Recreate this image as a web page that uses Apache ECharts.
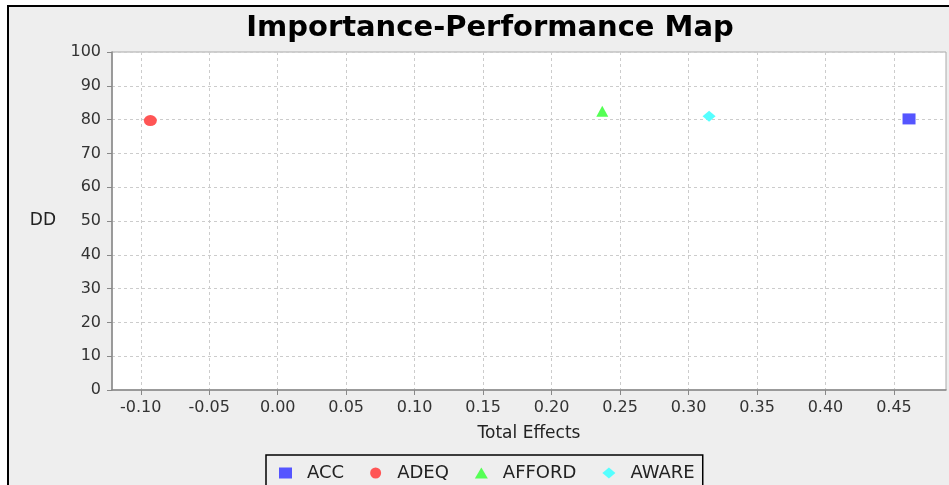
<!DOCTYPE html>
<html>
<head>
<meta charset="utf-8">
<script src="https://cdn.jsdelivr.net/npm/echarts@6/dist/echarts.min.js"></script>
<style>
  html, body { margin: 0; padding: 0; background: #fff; }
  #chart { width: 949px; height: 485px; }
</style>
</head>
<body>
<div id="chart"></div>
<script>
// constructs and their position on the map
const names = ['ACC', 'ADEQ', 'AFFORD', 'AWARE'];
const totalEffects = [0.461, -0.093, 0.237, 0.315];
const performance = [80.2, 79.7, 82.5, 81.0];
const colors = ['#5555ff', '#ff5555', '#55ff55', '#55ffff'];
const symbols = ['rect', 'circle', 'triangle', 'diamond'];
const xTicks = [-0.10, -0.05, 0.00, 0.05, 0.10, 0.15, 0.20, 0.25, 0.30, 0.35, 0.40, 0.45];

const font = 'DejaVu Sans';
const chart = echarts.init(document.getElementById('chart'));

const series = names.map((n, i) => ({
  name: n,
  type: 'scatter',
  symbol: symbols[i],
  symbolSize: symbols[i] === 'triangle' ? [12, 11] : [13, 11],
  itemStyle: { color: colors[i], opacity: 1 },
  data: [[totalEffects[i], performance[i]]]
}));

chart.setOption({
  animation: false,
  backgroundColor: '#ffffff',
  graphic: [{
    type: 'rect',
    shape: { x: 8, y: 6, width: 1000, height: 1000 },
    style: { fill: '#eeeeee', stroke: '#000', lineWidth: 2 },
    z: -10
  }],
  title: {
    text: 'Importance-Performance Map',
    left: 485, top: 9, textAlign: 'center',
    textStyle: { fontFamily: font, fontWeight: 'bold', fontSize: 29, color: '#000' }
  },
  legend: {
    left: 266, top: 455,
    data: names.map((n, i) => ({ name: n, icon: symbols[i] })),
    itemWidth: 13, itemHeight: 11, itemGap: 26,
    borderColor: '#000', borderWidth: 1.5,
    padding: [9, 8, 20, 13],
    textStyle: { fontFamily: font, fontSize: 18, color: '#222', padding: [0, 0, 0, 10] }
  },
  grid: {
    left: 112, right: 3, top: 52, bottom: 95,
    show: true, backgroundColor: '#fff', borderColor: '#aaa', borderWidth: 1
  },
  xAxis: {
    type: 'value', min: -0.121, max: 0.488,
    name: 'Total Effects', nameLocation: 'middle', nameGap: 35,
    nameTextStyle: { fontFamily: font, fontSize: 17, color: '#222' },
    axisLine: { show: true, onZero: false, lineStyle: { color: '#888', width: 1.5 } },
    axisTick: { show: true, length: 5, customValues: xTicks, lineStyle: { color: '#888' } },
    axisLabel: {
      customValues: xTicks, margin: 10,
      fontFamily: font, fontSize: 16, color: '#333',
      formatter: v => v.toFixed(2)
    },
    splitLine: { show: true, lineStyle: { color: '#cccccc', type: [3, 3] } }
  },
  yAxis: {
    type: 'value', min: 0, max: 100, interval: 10,
    name: 'DD', nameLocation: 'middle', nameGap: 56, nameRotate: 0,
    nameTextStyle: { fontFamily: font, fontSize: 17, color: '#222' },
    axisLine: { show: true, onZero: false, lineStyle: { color: '#888', width: 1.5 } },
    axisTick: { show: true, length: 5, lineStyle: { color: '#888' } },
    axisLabel: { margin: 11, fontFamily: font, fontSize: 16, color: '#333' },
    splitLine: { show: true, lineStyle: { color: '#cccccc', type: [3, 3] } }
  },
  series: series
});
</script>
</body>
</html>
